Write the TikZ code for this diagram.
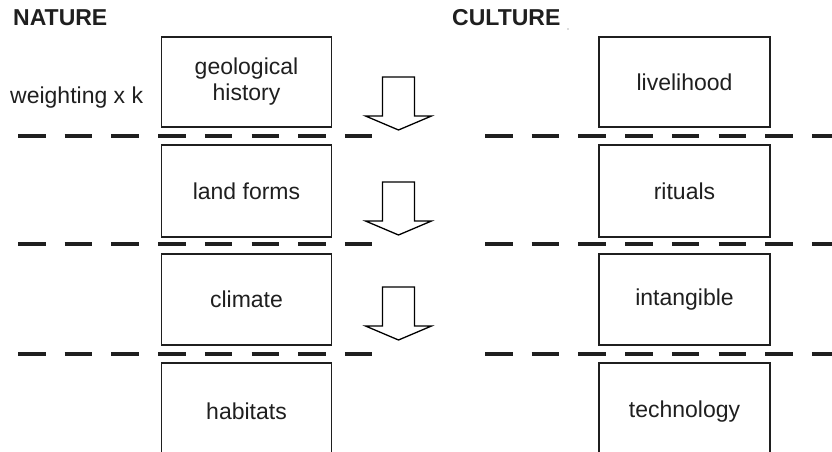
\documentclass[tikz,border=0pt]{standalone}
\usepackage{fontspec}
\setmainfont{Liberation Sans}
\begin{document}
\begin{tikzpicture}[x=1pt,y=-1pt,
  every node/.style={font=\fontsize{23}{26}\selectfont, text=black!88},
  boxnode/.style={draw=black!88, line width=1.8pt, minimum width=170pt, inner sep=0pt, align=center},
  sepline/.style={draw=black!88, line width=4.8pt, dash pattern=on 27.5pt off 19.2pt},
  downarrow/.style={draw=black, line width=1.3pt, fill=white, line join=miter},
  title/.style={font=\fontsize{23}{26}\selectfont\bfseries, anchor=base west, inner sep=0pt}]
\useasboundingbox (0,0) rectangle (832,452);
% titles
\node[title] (nature) at (13,26) {NATURE};
\node[title] (culture) at (452,26) {CULTURE};
\fill[black!60] (568,29) circle (0.6);
\node[anchor=base west, inner sep=0pt] (weight) at (10,103) {weighting x k};
% left column
\node[boxnode, minimum height=90pt] (geo) at (246.5,82) {geological\\history};
\node[boxnode, minimum height=92pt] (land) at (246.5,191) {land forms};
\node[boxnode, minimum height=91pt] (clim) at (246.5,299.5) {climate};
\node[boxnode, minimum height=97pt] (hab) at (246.5,411.5) {habitats};
% right column
\node[boxnode, minimum width=171pt, minimum height=90pt] (live) at (684.5,82) {livelihood};
\node[boxnode, minimum width=171pt, minimum height=92pt] (rit) at (684.5,191) {rituals};
\node[boxnode, minimum width=171pt, minimum height=91pt] (intang) at (684.5,299.5) {intangible};
\node[boxnode, minimum width=171pt, minimum height=97pt] (tech) at (684.5,411.5) {technology};
% dashed separators
\foreach \yy/\nm in {136/a,244/b,354/c}{
  \coordinate (l\nm) at (18,\yy);
  \coordinate (le\nm) at (372,\yy);
  \coordinate (r\nm) at (485,\yy);
  \coordinate (re\nm) at (845,\yy);
  \draw[sepline] (l\nm) -- (le\nm);
  \draw[sepline] (r\nm) -- (re\nm);
}
% block arrows
\foreach \top/\nm in {77/1,182/2,287/3}{
  \coordinate (arr\nm) at (398.5,\top);
  \draw[downarrow] (arr\nm) ++(-16,0) -- ++(0,39) -- ++(-17,0) -- ++(33,14) -- ++(33,-14) -- ++(-17,0) -- ++(0,-39) -- cycle;
}
\end{tikzpicture}
\end{document}
